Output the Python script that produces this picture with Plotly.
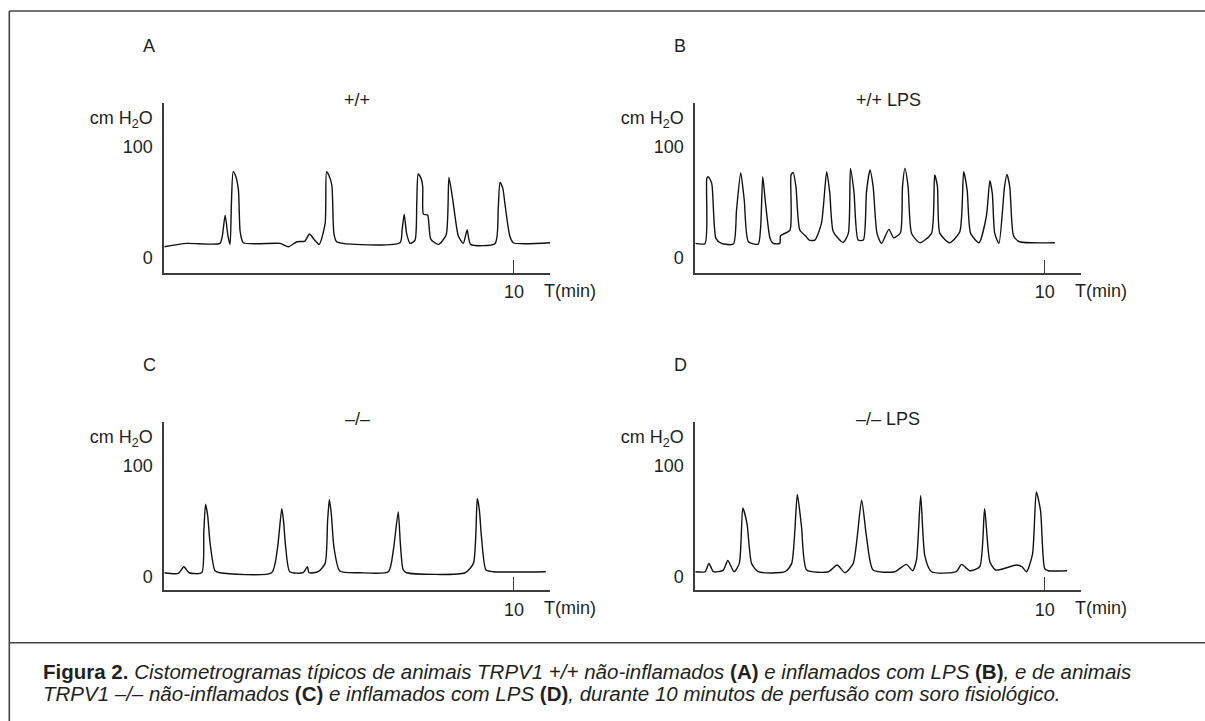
import plotly.graph_objects as go

# ---------------- data (time in min, pressure in cm H2O) ----------------
a_t = [0, 0.64, 1.59, 1.66, 1.74, 1.82, 1.88, 1.92, 1.97, 2.04, 2.12, 2.17, 2.26, 3.31, 3.55, 3.79, 4.02,
       4.15, 4.28, 4.43, 4.60, 4.64, 4.70, 4.79, 4.85, 4.93, 6.74, 6.80, 6.86, 6.93, 7.03, 7.17, 7.22, 7.26,
       7.34, 7.39, 7.41, 7.53, 7.62, 7.84, 8.06, 8.14, 8.25, 8.41, 8.55, 8.66, 8.76, 9.46, 9.55, 9.60, 9.68,
       9.74, 9.88, 9.98, 11.03]
a_v = [10.2, 13.2, 13.2, 20, 38.7, 20, 12.3, 50, 77.8, 74, 61.3, 23.7, 13.8, 13.2, 10.2, 14.7, 15.3,
       21.6, 17, 12.3, 31.2, 77.8, 75, 65.8, 22.2, 14.7, 13.8, 25, 39.6, 22, 13.2, 16.2, 50, 75.7,
       72, 64.3, 39.6, 38.7, 17.1, 12.3, 20.7, 72.7, 52.5, 19.8, 13.2, 25.2, 12.3, 13.2, 45, 68.2, 63,
       49.2, 19.8, 13.8, 13.8]

b_t = [0, 0.28, 0.33, 0.37, 0.47, 0.59, 0.75, 1.09, 1.18, 1.30, 1.40, 1.52, 1.80, 1.87, 1.93, 2.00,
       2.14, 2.23, 2.42, 2.44, 2.71, 2.74, 2.80, 2.88, 2.99, 3.16, 3.26, 3.42, 3.61, 3.76, 3.85, 3.95,
       4.23, 4.38, 4.44, 4.54, 4.66, 4.81, 4.90, 5.00, 5.09, 5.20, 5.33, 5.54, 5.68, 5.87, 5.93, 6.00,
       6.09, 6.19, 6.43, 6.76, 6.85, 6.93, 7.00, 7.28, 7.57, 7.68, 7.78, 7.88, 8.12, 8.33, 8.43, 8.50,
       8.57, 8.69, 8.85, 8.92, 9.00, 9.11, 9.28, 10.29]
b_v = [13.2, 13.2, 71.8, 73.3, 67.3, 17.7, 13.2, 12.6, 43.2, 76.9, 52.5, 14.7, 12.6, 27.6, 73.3, 52.5,
       17.7, 13.2, 13.2, 20.1, 25.2, 74.8, 77.2, 64.3, 25.2, 19.8, 16.2, 16.2, 31.2, 77.8, 58.3, 23.7,
       14.1, 22.2, 80.8, 59.8, 16.2, 16.2, 59.8, 79.3, 64.3, 22.2, 13.2, 25.8, 18.3, 22.8, 64.3, 80.8,
       64.3, 22.2, 13.8, 22.2, 74.8, 64.3, 22.2, 13.8, 23.7, 77.8, 61.3, 22.2, 13.8, 37.5, 69.7, 58.3,
       22.2, 13.2, 64.3, 75.4, 64.3, 19.8, 14.7, 13.8]

c_t = [0, 0.40, 0.56, 0.71, 1.07, 1.13, 1.18, 1.24, 1.31, 1.45, 1.59, 3.07, 3.23, 3.36, 3.41, 3.47,
       3.59, 3.97, 4.09, 4.14, 4.40, 4.60, 4.67, 4.72, 4.78, 4.85, 5.02, 5.60, 6.41, 6.55, 6.69, 6.75,
       6.83, 6.93, 8.60, 8.84, 8.95, 9.01, 9.07, 9.20, 9.41, 10.91]
c_v = [3.6, 3.0, 9.0, 3.6, 3.6, 40, 65.1, 55, 29.9, 5.4, 3.6, 3.6, 23.9, 61.2, 50, 26.9,
       4.5, 3.6, 9.0, 3.6, 4.5, 12.0, 50, 69.3, 55, 26.9, 5.1, 3.6, 4.5, 23.9, 58.2, 30,
       6.3, 3.6, 3.6, 12.0, 70.2, 60, 35.8, 6.0, 4.5, 4.5]

d_t = [0, 0.28, 0.39, 0.52, 0.80, 0.93, 1.11, 1.26, 1.36, 1.48, 1.61, 1.80, 2.57, 2.76, 2.92, 3.04,
       3.19, 3.81, 4.06, 4.28, 4.52, 4.76, 4.90, 5.09, 5.71, 6.04, 6.22, 6.33, 6.45, 6.57, 6.76, 7.47,
       7.62, 7.86, 8.14, 8.28, 8.43, 8.60, 9.19, 9.35, 9.48, 9.65, 9.76, 9.88, 10.00, 10.10, 10.64]
d_v = [4.5, 4.5, 12.0, 4.5, 6.0, 14.6, 4.5, 12.0, 61.8, 47.8, 12.0, 4.5, 4.5, 12.0, 73.8, 44.8,
       6.0, 4.5, 10.5, 3.6, 12.0, 68.7, 35.8, 6.0, 4.5, 11.1, 5.4, 15.2, 73.1, 18.5, 4.5, 4.5,
       11.1, 5.4, 9.0, 61.2, 13.5, 6.0, 10.5, 9.0, 4.5, 20.0, 76.1, 59.6, 7.2, 5.4, 5.4]

panel_letters = ["A", "B", "C", "D"]
panel_titles = ["+/+", "+/+ LPS", "\u2013/\u2013", "\u2013/\u2013 LPS"]
x_tick_vals = [10]
x_tick_text = ["10"]
y_tick_vals = [0, 100, 126]
y_tick_text = ["0", "100", "cm H<sub>2</sub>O"]

series = [(a_t, a_v), (b_t, b_v), (c_t, c_v), (d_t, d_v)]

# ---------------- layout geometry ----------------
W, H = 1205, 721
FONT = "Liberation Sans, Arial, sans-serif"
INK = "#231f20"
AXC = "#3c3c3c"

x_doms = [(164.3 / W, 550 / W), (695.3 / W, 1080.7 / W)]
y_doms = [(1 - 272.7 / H, 1 - 103.3 / H), (1 - 590 / H, 1 - 421.5 / H)]
y_ranges = [[-13.2, 139.4], [-11.9, 139.4]]

fig = go.Figure()
layout = dict(
    width=W, height=H, margin=dict(l=0, r=0, t=0, b=0),
    paper_bgcolor="white", plot_bgcolor="white", showlegend=False,
    font=dict(family=FONT, color=INK, size=18),
)
annotations = []
for i, (tt, vv) in enumerate(series):
    row, col = divmod(i, 2)
    n = "" if i == 0 else str(i + 1)
    fig.add_trace(go.Scatter(
        x=tt, y=vv, mode="lines", xaxis="x" + n, yaxis="y" + n,
        line=dict(color="#111111", width=1.4, shape="spline", smoothing=0.6),
        hoverinfo="skip",
    ))
    layout["xaxis" + n] = dict(
        domain=list(x_doms[col]), range=[0, 11.03], anchor="y" + n,
        showline=True, linecolor=AXC, linewidth=1.8, mirror=False,
        showgrid=False, zeroline=False,
        tickmode="array", tickvals=x_tick_vals, ticktext=x_tick_text,
        ticks="inside", ticklen=13, tickwidth=1.3, tickcolor=AXC,
        tickfont=dict(size=18, family=FONT, color=INK), ticklabelstandoff=2,
    )
    layout["yaxis" + n] = dict(
        domain=list(y_doms[row]), range=y_ranges[row], anchor="x" + n,
        showline=True, linecolor=AXC, linewidth=1.8,
        showgrid=False, zeroline=False,
        tickmode="array", tickvals=y_tick_vals, ticktext=y_tick_text,
        ticks="", tickfont=dict(size=18, family=FONT, color=INK), ticklabelstandoff=6,
    )
    xr, yr = "x" + n + " domain", "y" + n + " domain"
    annotations.append(dict(text=panel_letters[i], xref=xr, yref=yr, x=0, y=1,
                            xshift=-15, yshift=57, showarrow=False,
                            xanchor="center", yanchor="middle", font=dict(size=18)))
    annotations.append(dict(text=panel_titles[i], xref=xr, yref=yr, x=0.5, y=1,
                            yshift=3, showarrow=False,
                            xanchor="center", yanchor="middle", font=dict(size=18)))
    annotations.append(dict(text="T(min)", xref="x" + n, yref=yr, x=10, y=0,
                            xshift=28, yshift=-18, showarrow=False,
                            xanchor="left", yanchor="middle", font=dict(size=18)))

# caption
cap1 = ("<b>Figura 2.</b> <i>Cistometrogramas típicos de animais TRPV1 +/+ não-inflamados</i> <b>(A)</b> "
        "<i>e inflamados com LPS</i> <b>(B)</b><i>, e de animais</i>")
cap2 = ("<i>TRPV1 \u2013/\u2013 não-inflamados</i> <b>(C)</b> <i>e inflamados com LPS</i> <b>(D)</b>"
        "<i>, durante 10 minutos de perfusão com soro fisiológico.</i>")
annotations.append(dict(text=cap1, xref="paper", yref="paper", x=41 / W, y=1 - 671 / H,
                        xanchor="left", yanchor="middle", showarrow=False, font=dict(size=20.5)))
annotations.append(dict(text=cap2, xref="paper", yref="paper", x=41 / W, y=1 - 693 / H,
                        xanchor="left", yanchor="middle", showarrow=False, font=dict(size=20.5)))
layout["annotations"] = annotations

# frame lines
frame = dict(color="#444444", width=1.6)
layout["shapes"] = [
    dict(type="line", xref="paper", yref="paper", x0=9.3 / W, x1=1.0, y0=1 - 11 / H, y1=1 - 11 / H, line=frame),
    dict(type="line", xref="paper", yref="paper", x0=9.3 / W, x1=9.3 / W, y0=1 - 11 / H, y1=0, line=frame),
    dict(type="line", xref="paper", yref="paper", x0=9.3 / W, x1=1.0, y0=1 - 642.7 / H, y1=1 - 642.7 / H, line=frame),
]
fig.update_layout(**layout)
fig.write_html("out.html")
